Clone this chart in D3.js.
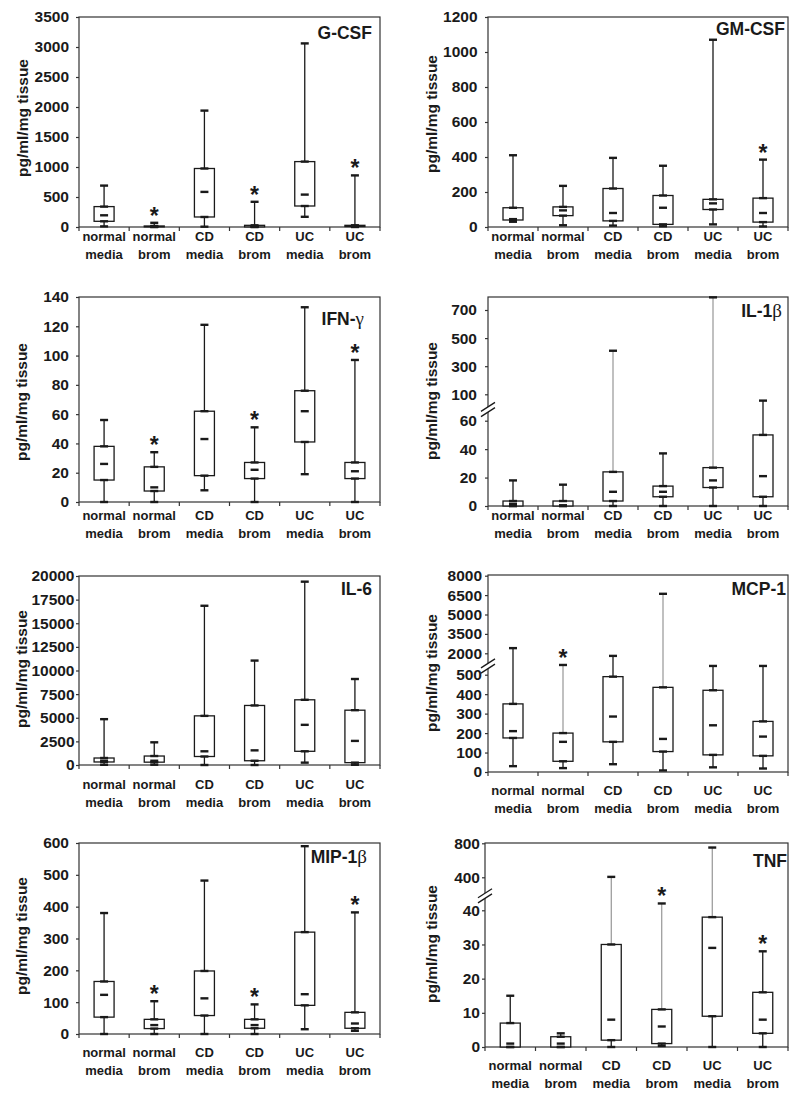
<!DOCTYPE html>
<html><head><meta charset="utf-8">
<script src="https://cdn.jsdelivr.net/npm/d3@7"></script>
<style>
html,body{margin:0;padding:0;background:#fff;}
svg{display:block;font-family:"Liberation Sans",Arial,sans-serif;}
</style></head>
<body>
<svg id="chart" width="800" height="1097"></svg>
<script>
// ---------- DATA ----------
const categories = [["normal","media"],["normal","brom"],["CD","media"],["CD","brom"],["UC","media"],["UC","brom"]];
// each row: [min, q1, median, q3, max]
const gcsfData = [[10,95,195,340,690],[0,2,6,17,70],[5,167,585,975,1940],[0,2,10,28,420],[170,350,540,1090,3060],[0,8,18,28,860]];
const gcsfStars = [0,1,0,1,0,1];
const gcsfTicks = [0,500,1000,1500,2000,2500,3000,3500];

const gmcsfData = [[30,40,45,110,410],[10,65,95,115,235],[8,35,80,220,395],[4,15,110,180,350],[15,100,135,158,1070],[3,28,80,165,385]];
const gmcsfStars = [0,0,0,0,0,1];
const gmcsfTicks = [0,200,400,600,800,1000,1200];

const ifngData = [[0,15,26,38,56],[0,7.5,10,24,34],[8,18,43,62,121],[0,16,22,27,51],[19,41,62,76,133],[0,16,21,27,97]];
const ifngStars = [0,1,0,1,0,1];
const ifngTicks = [0,20,40,60,80,100,120,140];

const il1bData = [[0,0,1.5,3.5,18],[0,0,0.5,3.5,15],[0,3.5,10,24,410],[0,6.5,10,14,37],[0,13,18,27,790],[0,6.5,21,50,55]];
const il1bStars = [0,0,0,0,0,0];
const il1bLowTicks = [0,20,40,60];
const il1bHighTicks = [100,300,500,700];

const il6Data = [[20,320,450,740,4850],[30,300,450,950,2400],[0,900,1450,5200,16850],[0,450,1550,6300,11050],[250,1450,4250,6900,19400],[20,250,2550,5800,9100]];
const il6Stars = [0,0,0,0,0,0];
const il6Ticks = [0,2500,5000,7500,10000,12500,15000,17500,20000];

const mcp1Data = [[30,175,210,350,2400],[20,55,155,200,550],[40,155,285,490,1800],[8,105,170,435,6600],[24,88,240,420,545],[18,83,182,260,545]];
const mcp1Stars = [0,1,0,0,0,0];
const mcp1LowTicks = [0,100,200,300,400,500];
const mcp1HighTicks = [2000,3500,5000,6500,8000];

const mip1bData = [[0,53,123,165,380],[0,17,28,46,103],[0,58,112,198,482],[0,18,28,46,93],[15,90,125,320,590],[10,18,33,68,382]];
const mip1bStars = [0,1,0,1,0,1];
const mip1bTicks = [0,100,200,300,400,500,600];

const tnfData = [[0,0,1,7,15],[0,0,1,3,4],[0,2,8,30,405],[0.3,1,6,11,42],[0,9,29,38,750],[0,4,8,16,28]];
const tnfStars = [0,0,0,1,0,1];
const tnfLowTicks = [0,10,20,30,40];
const tnfHighTicks = [400,800];

const yTitle = "pg/ml/mg tissue";

// ---------- LAYOUT ----------
const panels = [
  {title:["G-CSF",""], data:gcsfData, stars:gcsfStars, ticks:gcsfTicks,
   L:79,R:380,T:17,B:227, tRight:372,tBase:39, lab:14, pad:7, yt:[23,118]},
  {title:["GM-CSF",""], data:gmcsfData, stars:gmcsfStars, ticks:gmcsfTicks,
   L:488,R:788,T:17,B:227, tRight:785,tBase:35, lab:14, pad:7.5, yt:[432,114]},
  {title:["IFN-","γ"], data:ifngData, stars:ifngStars, ticks:ifngTicks,
   L:79,R:380,T:297,B:502, tRight:364,tBase:325, lab:18, pad:7, yt:[22,402]},
  {title:["IL-1","β"], data:il1bData, stars:il1bStars, lowTicks:il1bLowTicks, highTicks:il1bHighTicks,
   split:52, lowTop:420.7, highRange:[394.3,310],
   L:488,R:788,T:297,B:506, tRight:782,tBase:317, lab:14, pad:8, yt:[432,401]},
  {title:["IL-6",""], data:il6Data, stars:il6Stars, ticks:il6Ticks,
   L:79,R:380,T:576,B:765, tRight:372,tBase:595, lab:24, pad:1.5, yt:[22,669]},
  {title:["MCP-1",""], data:mcp1Data, stars:mcp1Stars, lowTicks:mcp1LowTicks, highTicks:mcp1HighTicks,
   split:600, lowTop:674.7, highRange:[653.3,575.7],
   L:488,R:788,T:575,B:772, tRight:786,tBase:595, lab:23, pad:3, yt:[432,673]},
  {title:["MIP-1","β"], data:mip1bData, stars:mip1bStars, ticks:mip1bTicks,
   L:79,R:380,T:843,B:1034, tRight:367,tBase:863, lab:23, pad:7, yt:[22,936]},
  {title:["TNF",""], data:tnfData, stars:tnfStars, lowTicks:tnfLowTicks, highTicks:tnfHighTicks,
   split:44, lowTop:910.3, highRange:[877.3,843.3],
   L:485,R:788,T:843,B:1047, tRight:787,tBase:867, lab:23, pad:2, yt:[432,944]}
];

const svg = d3.select("#chart");
const ink = "#1a1a1a";
const frameCol = "#333";

panels.forEach(p => {
  const g = svg.append("g");
  const broken = !!p.lowTicks;
  let y, lower, upper;
  if (broken) {
    lower = d3.scaleLinear().domain([p.lowTicks[0], p.lowTicks[p.lowTicks.length-1]]).range([p.B, p.lowTop]);
    upper = d3.scaleLinear().domain([p.highTicks[0], p.highTicks[p.highTicks.length-1]]).range(p.highRange);
    y = v => (v <= p.split ? lower(v) : upper(v));
  } else {
    y = d3.scaleLinear().domain([p.ticks[0], p.ticks[p.ticks.length-1]]).range([p.B, p.T]);
  }
  const x = d3.scaleBand().domain(d3.range(categories.length)).range([p.L, p.R]);
  const bw = x.bandwidth();
  const boxW = 20, capW = 8;

  // frame
  g.append("rect").attr("x",p.L).attr("y",p.T).attr("width",p.R-p.L).attr("height",p.B-p.T)
    .attr("fill","none").attr("stroke",frameCol).attr("stroke-width",1.2);

  // y axis ticks
  const styleAxis = sel => {
    sel.select(".domain").remove();
    sel.selectAll(".tick line").attr("stroke",frameCol).attr("stroke-width",1.2);
    sel.selectAll(".tick text").attr("fill",ink).attr("font-size",15.5).attr("font-weight","bold")
      .attr("font-family","Liberation Sans, Arial, sans-serif");
  };
  if (broken) {
    g.append("g").attr("transform",`translate(${p.L},0)`)
      .call(d3.axisLeft(lower).tickValues(p.lowTicks).tickSize(3).tickPadding(p.pad).tickFormat(d3.format("d")))
      .call(styleAxis);
    g.append("g").attr("transform",`translate(${p.L},0)`)
      .call(d3.axisLeft(upper).tickValues(p.highTicks).tickSize(3).tickPadding(p.pad).tickFormat(d3.format("d")))
      .call(styleAxis);
    // break mark
    const yc = (lower(p.lowTicks[p.lowTicks.length-1]) + upper(p.highTicks[0]))/2 + 2;
    const dx = 7, dy = 4.5, gap = 2.6;
    g.append("path")
      .attr("d",`M${p.L-dx},${yc+dy-gap}L${p.L+dx},${yc-dy-gap}L${p.L+dx},${yc-dy+gap}L${p.L-dx},${yc+dy+gap}Z`)
      .attr("fill","#fff");
    [-gap, gap].forEach(o => {
      g.append("line").attr("x1",p.L-dx).attr("y1",yc+dy+o).attr("x2",p.L+dx).attr("y2",yc-dy+o)
        .attr("stroke",ink).attr("stroke-width",1.3);
    });
  } else {
    g.append("g").attr("transform",`translate(${p.L},0)`)
      .call(d3.axisLeft(y).tickValues(p.ticks).tickSize(3).tickPadding(p.pad).tickFormat(d3.format("d")))
      .call(styleAxis);
  }

  // x ticks at band boundaries
  const bounds = d3.range(categories.length).map(i => x(i)).concat([p.R]);
  g.selectAll(".xt").data(bounds).enter().append("line")
    .attr("x1",d=>d).attr("x2",d=>d).attr("y1",p.B).attr("y2",p.B+4)
    .attr("stroke",frameCol).attr("stroke-width",1.2);

  // x labels
  const lab = g.selectAll(".xl").data(categories).enter().append("text")
    .attr("text-anchor","middle").attr("font-size",13).attr("font-weight","bold").attr("fill",ink);
  lab.append("tspan").attr("x",(d,i)=>x(i)+bw/2).attr("y",p.B+p.lab).text(d=>d[0]);
  lab.append("tspan").attr("x",(d,i)=>x(i)+bw/2).attr("y",p.B+p.lab+17.5).text(d=>d[1]);

  // y title
  g.append("text").attr("transform",`translate(${p.yt[0]},${p.yt[1]}) rotate(-90)`)
    .attr("text-anchor","middle").attr("dy","0.3em").attr("font-size",15.5).attr("font-weight","bold")
    .attr("fill",ink).text(yTitle);

  // panel title
  const t = g.append("text").attr("x",p.tRight).attr("y",p.tBase).attr("text-anchor","end")
    .attr("font-size",17.5).attr("font-weight","bold").attr("fill",ink);
  t.append("tspan").text(p.title[0]);
  if (p.title[1]) t.append("tspan").attr("font-family","Liberation Serif, DejaVu Serif, serif")
    .attr("font-weight","normal").attr("font-size",19).text(p.title[1]);

  // boxes
  p.data.forEach((d,i) => {
    const cx = x(i) + bw/2;
    const [mn,q1,md,q3,mx] = d;
    const seg = (a,b) => {
      const y1 = y(a), y2 = y(b);
      const long = broken && Math.abs(y1-y2) > 60;
      g.append("line").attr("x1",cx).attr("x2",cx).attr("y1",y1).attr("y2",y2)
        .attr("stroke", long ? "#8c8c8c" : ink).attr("stroke-width", long ? 1.1 : 1.3);
    };
    seg(mn,q1); seg(q3,mx);
    g.append("rect").attr("x",cx-boxW/2).attr("y",y(q3)).attr("width",boxW)
      .attr("height",Math.max(0.5, y(q1)-y(q3))).attr("fill","#fff").attr("stroke",ink).attr("stroke-width",1.3);
    [mn,q1,md,q3,mx].forEach(v => {
      g.append("line").attr("x1",cx-capW/2).attr("x2",cx+capW/2).attr("y1",y(v)).attr("y2",y(v))
        .attr("stroke",ink).attr("stroke-width",2.4);
    });
    if (p.stars[i]) {
      g.append("text").attr("x",cx).attr("y",y(mx)+1).attr("text-anchor","middle")
        .attr("font-size",23).attr("font-weight","bold").attr("fill",ink).text("*");
    }
  });
});
</script>
</body></html>
